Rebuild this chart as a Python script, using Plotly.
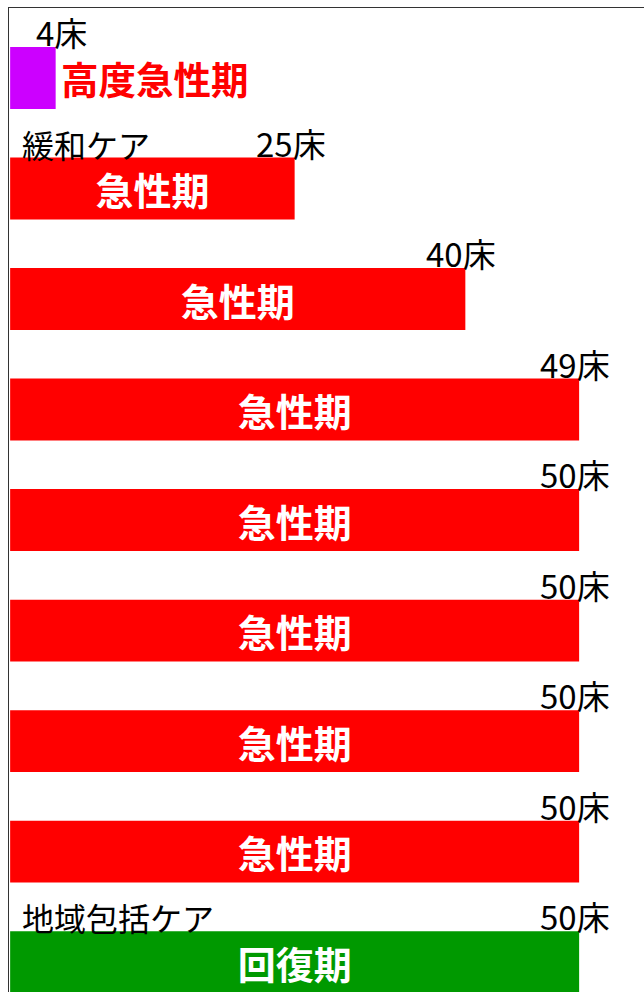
import plotly.graph_objects as go

# Data
functions = ["高度急性期", "急性期", "急性期", "急性期", "急性期", "急性期", "急性期", "急性期", "回復期"]
beds = [4, 25, 40, 49, 50, 50, 50, 50, 50]
bar_lengths = [4, 25, 40, 50, 50, 50, 50, 50, 50]
care_labels = ["", "緩和ケア", "", "", "", "", "", "", "地域包括ケア"]
colors = ["#CC00FF", "#FF0000", "#FF0000", "#FF0000", "#FF0000", "#FF0000", "#FF0000", "#FF0000", "#009900"]

rows = list(range(len(functions)))
inside_text = ["" if f == "高度急性期" else f for f in functions]

FONT = "Noto Sans CJK JP"
BAR_W = 0.56

fig = go.Figure()
fig.add_trace(go.Bar(
    x=bar_lengths, y=rows, orientation="h",
    marker=dict(color=colors, line=dict(width=0)),
    width=BAR_W,
    text=inside_text, textposition="inside", insidetextanchor="middle",
    textfont=dict(family=FONT, size=38, color="white", weight="bold"),
    constraintext="none",
    hoverinfo="skip",
))

annotations = []
for i, (b, L) in enumerate(zip(beds, bar_lengths)):
    annotations.append(dict(
        x=L, y=i - BAR_W / 2, xref="x", yref="y",
        text=f"{b}床", showarrow=False,
        xanchor="right", yanchor="bottom", xshift=33, yshift=-11,
        font=dict(family=FONT, size=33, color="black"),
    ))
    if care_labels[i]:
        annotations.append(dict(
            x=0, y=i - BAR_W / 2, xref="x", yref="y",
            text=care_labels[i], showarrow=False,
            xanchor="left", yanchor="bottom", xshift=10, yshift=-11,
            font=dict(family=FONT, size=32, color="black"),
        ))
    if functions[i] == "高度急性期":
        annotations.append(dict(
            x=L, y=i, xref="x", yref="y",
            text=functions[i], showarrow=False,
            xanchor="left", yanchor="middle", xshift=3, yshift=0,
            font=dict(family=FONT, size=37.5, color="#FF0000", weight="bold"),
        ))

fig.update_layout(
    width=644, height=992,
    margin=dict(l=9, r=0, t=8, b=0),
    paper_bgcolor="white", plot_bgcolor="white",
    showlegend=False,
    annotations=annotations,
    xaxis=dict(range=[-0.1, 55.7], side="top", showline=True, linecolor="#333333", linewidth=1,
               showticklabels=False, ticks="", showgrid=False, zeroline=False, fixedrange=True),
    yaxis=dict(range=[8.27, -0.633], showline=True, linecolor="#333333", linewidth=1,
               showticklabels=False, ticks="", showgrid=False, zeroline=False, fixedrange=True),
)

fig.write_html("out.html", config={"displayModeBar": False})
